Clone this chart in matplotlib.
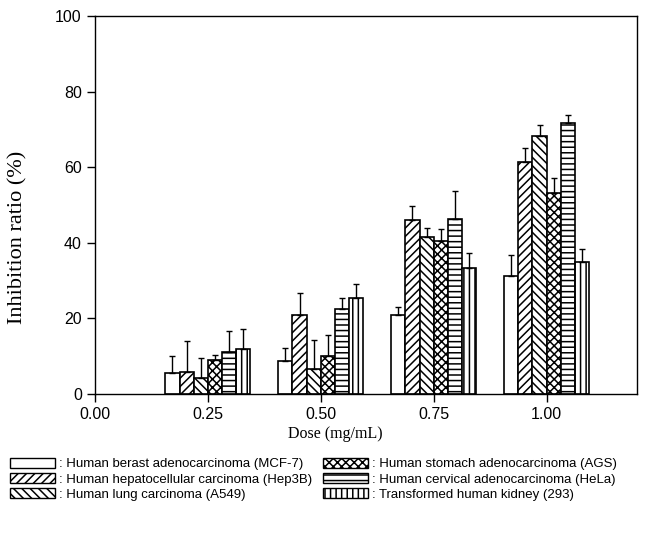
import numpy as np
import matplotlib
matplotlib.use('Agg')
import matplotlib.pyplot as plt
from matplotlib.patches import Patch

doses = [0.25, 0.50, 0.75, 1.00]

labels = [': Human berast adenocarcinoma (MCF-7)',
          ': Human hepatocellular carcinoma (Hep3B)',
          ': Human lung carcinoma (A549)',
          ': Human stomach adenocarcinoma (AGS)',
          ': Human cervical adenocarcinoma (HeLa)',
          ': Transformed human kidney (293)']

mcf7 = [5.5, 8.8, 20.9, 31.3]
hep3b = [5.7, 20.8, 46.1, 61.4]
a549 = [4.3, 6.6, 41.5, 68.3]
ags = [9.1, 10.0, 40.6, 53.1]
hela = [11.2, 22.6, 46.3, 71.7]
k293 = [11.9, 25.3, 33.3, 35.0]

mcf7_err = [4.5, 3.3, 2.0, 5.6]
hep3b_err = [8.2, 5.9, 3.6, 3.6]
a549_err = [5.3, 7.6, 2.4, 2.9]
ags_err = [1.1, 5.5, 3.0, 4.1]
hela_err = [5.4, 2.7, 7.4, 2.1]
k293_err = [5.3, 3.7, 3.9, 3.4]

series = [mcf7, hep3b, a549, ags, hela, k293]
errors = [mcf7_err, hep3b_err, a549_err, ags_err, hela_err, k293_err]
hatches = ['', '////', '\\\\\\\\', 'xxxx', '---', '|||']

plt.rcParams['hatch.linewidth'] = 1.1

dpi = 100.0
fig = plt.figure(figsize=(646 / dpi, 533 / dpi), dpi=dpi)
ax = fig.add_axes([95 / 646, 1 - 394 / 533, (637 - 95) / 646, (394 - 16) / 533])

w = 0.0314
x = np.array(doses)
for i in range(6):
    pos = x + (i - 2.5) * w
    ax.bar(pos, series[i], width=w, color='white', edgecolor='black',
           linewidth=1.2, hatch=hatches[i], zorder=2)
    ax.errorbar(pos, series[i], yerr=[np.zeros(4), errors[i]], fmt='none',
                ecolor='black', elinewidth=1.0, capsize=2.5, capthick=1.0, zorder=3)

ax.set_xlim(0, 1.2)
ax.set_ylim(0, 100)
ax.set_xticks([0.0, 0.25, 0.5, 0.75, 1.0])
ax.set_xticklabels(['0.00', '0.25', '0.50', '0.75', '1.00'])
ax.set_yticks([0, 20, 40, 60, 80, 100])
ax.tick_params(direction='out', length=6, width=1, labelsize=11.5,
               top=False, right=False)
for lab in ax.get_xticklabels() + ax.get_yticklabels():
    lab.set_family('Liberation Sans')
for s in ax.spines.values():
    s.set_linewidth(1.0)

ax.set_xlabel('Dose (mg/mL)', family='Liberation Serif', fontsize=11.5)
ax.xaxis.set_label_coords((335 - 95) / 542, -0.085)
ax.set_ylabel('Inhibition ratio (%)', family='Liberation Serif', fontsize=16)
ax.yaxis.set_label_coords(-0.125, 0.415)

handles = [Patch(facecolor='white', edgecolor='black', linewidth=1.0, hatch=h)
           for h in hatches]
kw = dict(loc='upper left', frameon=False, borderpad=0, borderaxespad=0,
          handlelength=3.4, handleheight=0.76, handletextpad=0.3,
          labelspacing=0.2, prop={'family': 'Liberation Sans', 'size': 9.5})
fig.legend(handles[:3], labels[:3], bbox_to_anchor=(10 / 646, 1 - 458 / 533), **kw)
fig.legend(handles[3:], labels[3:], bbox_to_anchor=(323 / 646, 1 - 458 / 533), **kw)

fig.savefig('out.png', dpi=dpi)
